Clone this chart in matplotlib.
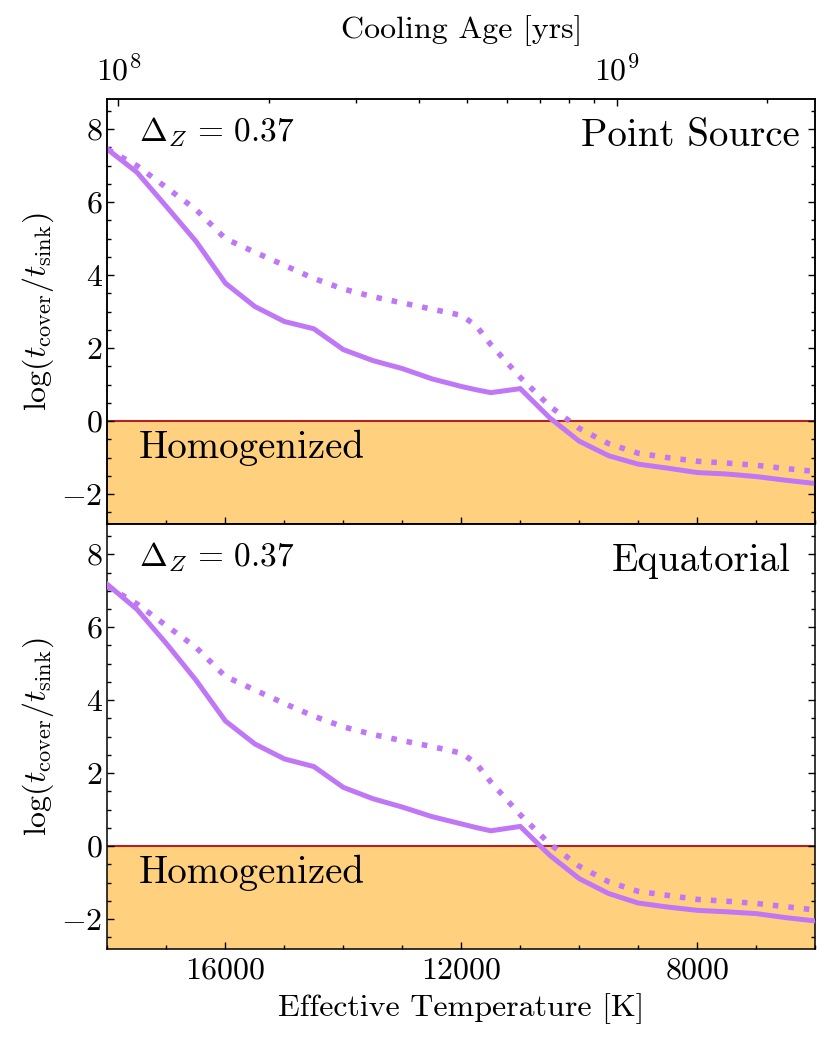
import numpy as np
import matplotlib
matplotlib.use("Agg")
import matplotlib.pyplot as plt
from matplotlib.ticker import MultipleLocator, NullFormatter, LogLocator

plt.rcParams['font.family'] = 'serif'
plt.rcParams['font.serif'] = ['cmr10', 'DejaVu Serif']
plt.rcParams['mathtext.fontset'] = 'cm'
plt.rcParams['axes.formatter.use_mathtext'] = True
plt.rcParams['axes.unicode_minus'] = True

# ---- data ----
teff = [18000, 17500, 17000, 16500, 16000, 15500, 15000, 14500, 14000, 13500,
        13000, 12500, 12000, 11750, 11500, 11000, 10500, 10000, 9500, 9000,
        8500, 8000, 7500, 7000, 6500, 6000]

# Point Source panel
ps_solid = [7.45, 6.82, 5.88, 4.93, 3.78, 3.14, 2.73, 2.53, 1.96, 1.66,
            1.44, 1.16, 0.95, 0.86, 0.78, 0.89, 0.09, -0.55, -0.95, -1.18,
            -1.29, -1.41, -1.45, -1.52, -1.62, -1.71]
ps_dotted = [7.45, 7.00, 6.40, 5.80, 5.00, 4.63, 4.27, 3.91, 3.62, 3.41,
             3.24, 3.07, 2.90, 2.62, 2.10, 1.20, 0.41, -0.20, -0.62, -0.88,
             -1.00, -1.10, -1.15, -1.21, -1.30, -1.38]

# Equatorial panel
eq_solid = [7.17, 6.49, 5.55, 4.55, 3.43, 2.80, 2.39, 2.18, 1.61, 1.30,
            1.07, 0.81, 0.61, 0.51, 0.42, 0.54, -0.25, -0.89, -1.30, -1.56,
            -1.67, -1.76, -1.80, -1.85, -1.96, -2.05]
eq_dotted = [7.12, 6.64, 6.04, 5.45, 4.65, 4.28, 3.91, 3.56, 3.27, 3.06,
             2.89, 2.73, 2.55, 2.27, 1.76, 0.86, 0.06, -0.55, -0.98, -1.24,
             -1.35, -1.46, -1.51, -1.57, -1.66, -1.75]

panel_names = ["Point Source", "Equatorial"]
delta_z_label = r"$\Delta_Z\,=\,0.37$"
teff_lim = (18000, 6000)
age_lim = (9.505e7, 2.494e9)
ylim = (-2.82, 8.83)

line_color = '#bf77f6'
fill_color = 'orange'
zero_color = 'firebrick'

fig = plt.figure(figsize=(8.3, 10.44), dpi=100)
gs = fig.add_gridspec(2, 1, left=0.1295, right=0.982, top=0.9052, bottom=0.091, hspace=0)
ax1 = fig.add_subplot(gs[0])
ax2 = fig.add_subplot(gs[1], sharex=ax1)

series = [(ps_solid, ps_dotted), (eq_solid, eq_dotted)]
name_x = [0.979, 0.965]

for i, (ax, (sol, dot)) in enumerate(zip([ax1, ax2], series)):
    ax.axhspan(ylim[0] - 5, 0, color=fill_color, alpha=0.5, lw=0, zorder=0)
    ax.axhline(0, color=zero_color, lw=1.5, zorder=1)
    ax.plot(teff, sol, color=line_color, lw=3.6, zorder=3, solid_joinstyle='miter')
    ax.plot(teff, dot, color=line_color, lw=4.0, ls=(0, (1, 1.8)), zorder=3)
    ax.set_ylim(*ylim)
    ax.set_ylabel(r"$\log(t_{\rm cover}/t_{\rm sink})$", fontsize=23)
    ax.yaxis.set_major_locator(MultipleLocator(2))
    ax.yaxis.set_minor_locator(MultipleLocator(0.5))
    ax.xaxis.set_major_locator(MultipleLocator(4000))
    ax.xaxis.set_minor_locator(MultipleLocator(1000))
    ax.tick_params(which='both', direction='in', right=True, top=False, labelsize=23, width=1.0)
    ax.tick_params(which='major', length=5)
    ax.tick_params(which='minor', length=2.7)
    ax.tick_params(axis='x', which='major', pad=6)
    ax.text(0.044, 0.901, delta_z_label, transform=ax.transAxes, fontsize=24,
            ha='left', va='baseline')
    ax.text(name_x[i], 0.889, panel_names[i], transform=ax.transAxes, fontsize=28,
            ha='right', va='baseline')
    ax.text(0.044, 0.156, "Homogenized", transform=ax.transAxes, fontsize=28,
            ha='left', va='baseline', zorder=4)

ax1.set_xlim(*teff_lim)
ax1.tick_params(axis='x', which='both', labelbottom=False)
ax2.set_xlabel("Effective Temperature [K]", fontsize=23, labelpad=6)

# top axis: cooling age
axt = ax1.twiny()
axt.set_xscale('log')
axt.set_xlim(*age_lim)
axt.xaxis.set_major_locator(LogLocator(base=10))
axt.xaxis.set_minor_locator(LogLocator(base=10, subs=np.arange(2, 10)))
axt.xaxis.set_minor_formatter(NullFormatter())
axt.tick_params(which='both', direction='in', labelsize=23, width=1.0)
axt.tick_params(which='major', length=5, pad=9)
axt.tick_params(which='minor', length=2.7)
axt.set_xlabel("Cooling Age [yrs]", fontsize=23, labelpad=12)

for a in [ax1, ax2, axt]:
    for s in a.spines.values():
        s.set_linewidth(1.1)

fig.savefig("out.png", dpi=100)
